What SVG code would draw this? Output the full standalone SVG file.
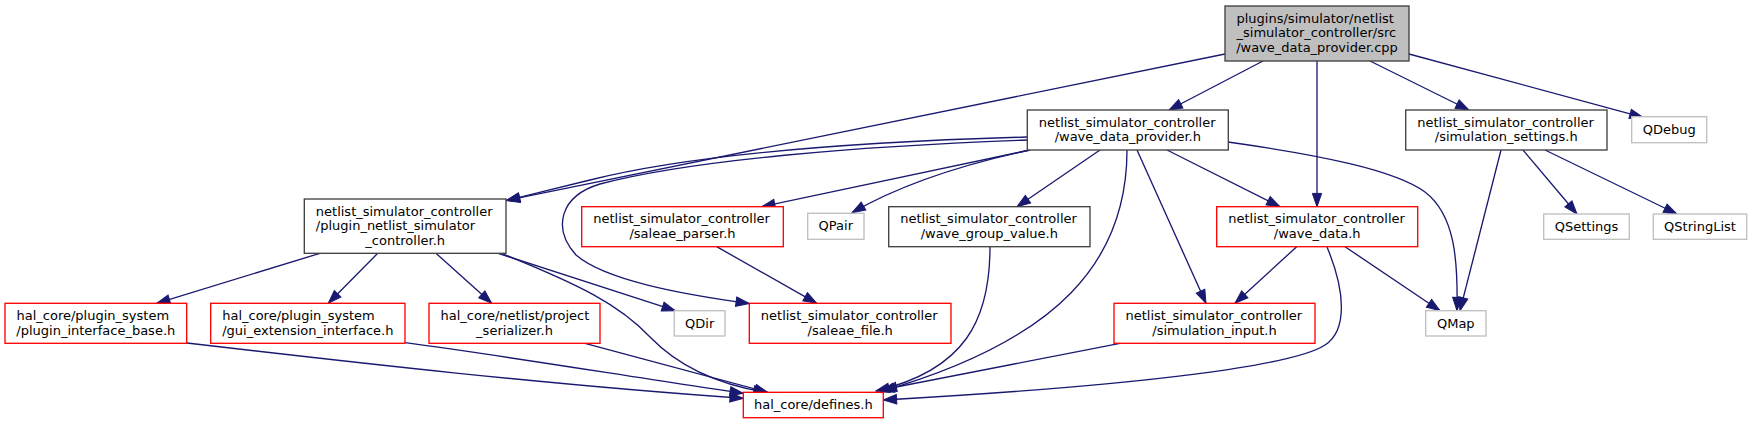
<svg xmlns="http://www.w3.org/2000/svg" width="1752" height="424" viewBox="0 0 1752 424">
<style>
.nd rect{fill:#fff;stroke-width:1.33}
.k rect{stroke:#404040}
.r rect{stroke:#ff0000}
.g rect{stroke:#bfbfbf}
#root rect{fill:#bfbfbf}
text{font-family:"DejaVu Sans","Liberation Sans",sans-serif;font-size:13px;fill:#000}
.c{text-anchor:middle}
#edges path{fill:none;stroke:#191970;stroke-width:1.33;marker-end:url(#ah)}
</style>
<defs>
<marker id="ah" markerUnits="userSpaceOnUse" markerWidth="16" markerHeight="12" refX="13.3" refY="4.67" orient="auto" overflow="visible">
<path d="M0,0 L13.3,4.67 L0,9.33 Z" fill="#191970" stroke="#191970" stroke-width="1"/>
</marker>
</defs>
<rect width="1752" height="424" fill="#fff"/>
<g id="edges">
<path d="M1263,61 L1169,110"/>
<path d="M1317,61 L1317,206.7"/>
<path d="M1370,61 L1469,110"/>
<path d="M1409,54 L1643,117.3"/>
<path d="M1225,54 L506.5,200.5"/>
<path d="M1027,137 C850,142 690,155 590,180 L506.5,200.5"/>
<path d="M1027,140 C860,146 690,160 600,184 C560,196 552,228 576,255 C605,280 680,294 749.3,303.5"/>
<path d="M1030,150 L761.7,206.7"/>
<path d="M1030,150 C960,165 900,185 852,212.7"/>
<path d="M1100,150 L1017,206.7"/>
<path d="M1127,150 C1127,260 1060,340 881,391.5"/>
<path d="M1137,150 L1206,303.3"/>
<path d="M1167,150 L1280,206.7"/>
<path d="M1228,142 C1320,155 1395,170 1425,192 C1455,215 1458,260 1457,310.7"/>
<path d="M1501,150 L1460,310.7"/>
<path d="M1523,150 L1577,214"/>
<path d="M1545,150 L1677,214"/>
<path d="M320,253.3 L156.7,303.3"/>
<path d="M377.7,253.3 L328.3,303.3"/>
<path d="M436,253.3 L491.7,303.3"/>
<path d="M498,253.3 L675.3,310.7"/>
<path d="M503,254 C580,285 620,305 650,337 C680,368 720,385 767,392.5"/>
<path d="M716.7,246.7 L816.7,303.3"/>
<path d="M187,343 C350,362 550,385 743.3,398.3"/>
<path d="M405,342.7 C500,355 650,380 743.3,393.3"/>
<path d="M585,343.3 L768,392.5"/>
<path d="M990,247 C990,320 965,370 876,391"/>
<path d="M1120,343.3 L883.3,389.5"/>
<path d="M1296.7,246.7 L1235,303.3"/>
<path d="M1345,246.7 L1440,310.7"/>
<path d="M1327,247 C1345,290 1348,330 1325,345 C1295,365 1150,385 883.3,400"/>
</g>
<g id="root" class="nd k"><rect x="1225" y="6" width="184" height="55"/>
<text x="1236.5" y="22.5">plugins/simulator/netlist</text>
<text x="1236.5" y="37.2">_simulator_controller/src</text>
<text class="c" x="1317" y="51.8">/wave_data_provider.cpp</text></g>
<g id="wdp" class="nd k"><rect x="1027.3" y="110" width="201" height="40"/>
<text x="1038.8" y="126.5">netlist_simulator_controller</text>
<text class="c" x="1127.8" y="141.2">/wave_data_provider.h</text></g>
<g id="simsettings" class="nd k"><rect x="1405.7" y="110" width="201.3" height="40"/>
<text x="1417.2" y="126.5">netlist_simulator_controller</text>
<text class="c" x="1506.3" y="141.2">/simulation_settings.h</text></g>
<g id="qdebug" class="nd g"><rect x="1631.7" y="116.7" width="75" height="26"/>
<text class="c" x="1669.2" y="133.7">QDebug</text></g>
<g id="pluginnsc" class="nd k"><rect x="304.3" y="199" width="201.7" height="54.3"/>
<text x="315.8" y="215.5">netlist_simulator_controller</text>
<text x="315.8" y="230.2">/plugin_netlist_simulator</text>
<text class="c" x="405.2" y="244.8">_controller.h</text></g>
<g id="saleaeparser" class="nd r"><rect x="581.7" y="206.7" width="201.6" height="40"/>
<text x="593.2" y="223.2">netlist_simulator_controller</text>
<text class="c" x="682.5" y="237.9">/saleae_parser.h</text></g>
<g id="qpair" class="nd g"><rect x="807.7" y="213.3" width="56.3" height="26"/>
<text class="c" x="835.8" y="230.3">QPair</text></g>
<g id="wavegroup" class="nd k"><rect x="888.7" y="206.7" width="201.3" height="40"/>
<text x="900.2" y="223.2">netlist_simulator_controller</text>
<text class="c" x="989.3" y="237.9">/wave_group_value.h</text></g>
<g id="wavedata" class="nd r"><rect x="1216.7" y="206.7" width="201" height="40"/>
<text x="1228.2" y="223.2">netlist_simulator_controller</text>
<text class="c" x="1317.2" y="237.9">/wave_data.h</text></g>
<g id="qsettings" class="nd g"><rect x="1543.7" y="214" width="85.6" height="25.3"/>
<text class="c" x="1586.5" y="231">QSettings</text></g>
<g id="qstringlist" class="nd g"><rect x="1653.3" y="214" width="93.4" height="25.3"/>
<text class="c" x="1700" y="231">QStringList</text></g>
<g id="pluginbase" class="nd r"><rect x="5" y="303.3" width="181.7" height="40"/>
<text x="16.5" y="319.8">hal_core/plugin_system</text>
<text class="c" x="95.8" y="334.5">/plugin_interface_base.h</text></g>
<g id="guiext" class="nd r"><rect x="210.7" y="303.3" width="194.3" height="40"/>
<text x="222.2" y="319.8">hal_core/plugin_system</text>
<text class="c" x="307.8" y="334.5">/gui_extension_interface.h</text></g>
<g id="projser" class="nd r"><rect x="429" y="303.3" width="171" height="40"/>
<text x="440.5" y="319.8">hal_core/netlist/project</text>
<text class="c" x="514.5" y="334.5">_serializer.h</text></g>
<g id="qdir" class="nd g"><rect x="674.3" y="310.7" width="50.7" height="25.3"/>
<text class="c" x="699.7" y="327.7">QDir</text></g>
<g id="saleaefile" class="nd r"><rect x="749.3" y="303.3" width="201.7" height="40"/>
<text x="760.8" y="319.8">netlist_simulator_controller</text>
<text class="c" x="850.2" y="334.5">/saleae_file.h</text></g>
<g id="siminput" class="nd r"><rect x="1114" y="303.3" width="201" height="40"/>
<text x="1125.5" y="319.8">netlist_simulator_controller</text>
<text class="c" x="1214.5" y="334.5">/simulation_input.h</text></g>
<g id="qmap" class="nd g"><rect x="1425.7" y="310.7" width="60.3" height="25.3"/>
<text class="c" x="1455.8" y="327.7">QMap</text></g>
<g id="defines" class="nd r"><rect x="743.3" y="392.3" width="140" height="25.4"/>
<text class="c" x="813.3" y="409.2">hal_core/defines.h</text></g>
</svg>
